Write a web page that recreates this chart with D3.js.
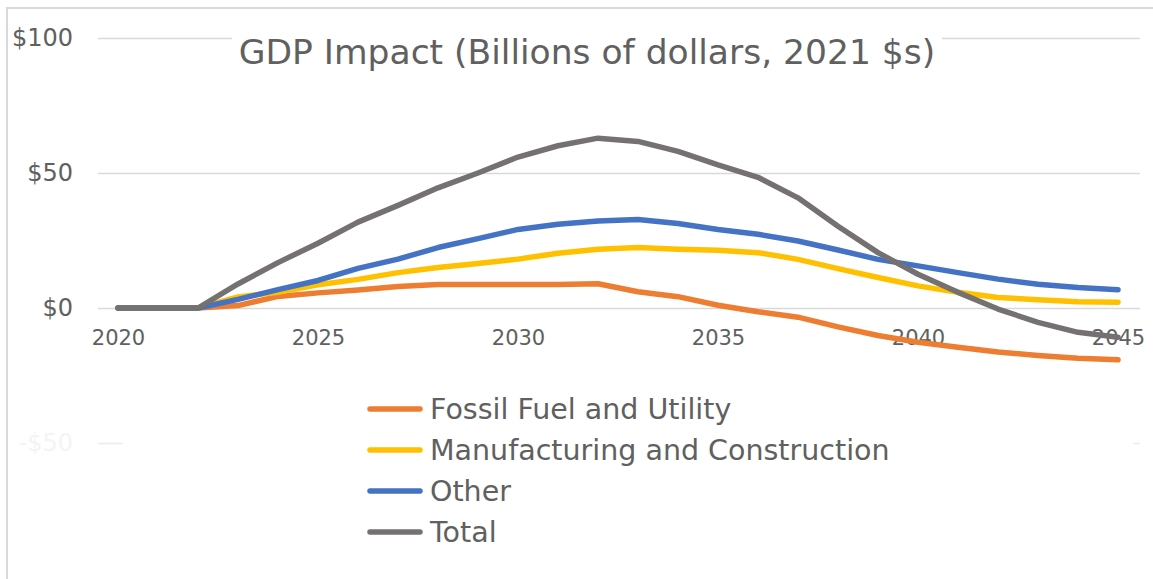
<!DOCTYPE html>
<html>
<head>
<meta charset="utf-8">
<script src="https://cdn.jsdelivr.net/npm/d3@7"></script>
<style>
  body { margin: 0; background: #fff; }
  svg text { font-family: "DejaVu Sans", sans-serif; fill: #606060; }
</style>
</head>
<body>
<svg id="chart"></svg>
<script>
const years = d3.range(2020, 2046);
const yearTicks = [2020, 2025, 2030, 2035, 2040, 2045];
const valueTicks = [-50, 0, 50, 100];

const seriesNames = ['Fossil Fuel and Utility', 'Manufacturing and Construction', 'Other', 'Total'];
const seriesColors = ['#ed7d31', '#ffc000', '#4472c4', '#767171'];

const fossilFuel = [0, 0, 0, 0.9, 4.3, 5.6, 6.7, 8.0, 8.7, 8.7, 8.7, 8.7, 9.0, 6.0, 4.2, 1.0,
  -1.4, -3.4, -7.0, -10.2, -12.7, -14.5, -16.3, -17.6, -18.6, -19.2];
const manufacturing = [0, 0, 0, 4.1, 5.8, 8.6, 10.6, 13.1, 15.0, 16.5, 18.1, 20.3, 21.8, 22.4, 21.8, 21.4,
  20.5, 18.0, 14.6, 11.3, 8.2, 5.8, 3.9, 3.1, 2.3, 2.1];
const other = [0, 0, 0, 3.2, 6.8, 10.2, 14.7, 18.1, 22.4, 25.7, 29.1, 31.0, 32.2, 32.8, 31.3, 29.1,
  27.3, 24.8, 21.5, 18.0, 15.6, 13.1, 10.7, 8.8, 7.6, 6.8];
const total = [0, 0, 0, 8.9, 16.8, 24.0, 31.8, 38.0, 44.5, 50.0, 55.9, 60.1, 62.9, 61.7, 58.0, 53.0,
  48.4, 40.8, 30.3, 20.5, 12.5, 5.8, -0.4, -5.3, -9.0, -10.8];

const seriesValues = [fossilFuel, manufacturing, other, total];

class GdpChart {

  constructor(_config, _data) {
    this.config = {
      parentElement: _config.parentElement,
      width: 1153,
      height: 579,
      plot: {left: 98, right: 1140, top: 38, bottom: 443},
      xRange: [118, 1118]
    }
    this.data = _data;
    this.initVis();
  }

  initVis() {
    let vis = this;

    vis.svg = d3.select(vis.config.parentElement)
        .attr('width', vis.config.width)
        .attr('height', vis.config.height);

    // chart area frame
    vis.svg.append('rect')
        .attr('x', 7).attr('y', 8)
        .attr('width', vis.config.width + 10).attr('height', vis.config.height + 10)
        .attr('fill', '#fff')
        .attr('stroke', '#d9d9d9')
        .attr('stroke-width', 2);

    vis.xScale = d3.scalePoint()
        .domain(years)
        .range(vis.config.xRange);

    vis.yScale = d3.scaleLinear()
        .domain([-50, 100])
        .range([vis.config.plot.bottom, vis.config.plot.top]);

    vis.yAxis = d3.axisLeft(vis.yScale)
        .tickValues(valueTicks)
        .tickSize(-(vis.config.plot.right - vis.config.plot.left))
        .tickPadding(25)
        .tickFormat(d => (d < 0 ? '-$' : '$') + Math.abs(d));

    vis.xAxis = d3.axisBottom(vis.xScale)
        .tickValues(yearTicks)
        .tickSize(0)
        .tickPadding(22);

    vis.yAxisG = vis.svg.append('g')
        .attr('class', 'axis y-axis')
        .attr('transform', `translate(${vis.config.plot.left},0)`);

    vis.xAxisG = vis.svg.append('g')
        .attr('class', 'axis x-axis')
        .attr('transform', `translate(0,${vis.yScale(0)})`);

    vis.linesG = vis.svg.append('g');
    vis.legendG = vis.svg.append('g');
    vis.titleG = vis.svg.append('g');
  }

  updateVis() {
    let vis = this;

    vis.line = d3.line()
        .x((d, i) => vis.xScale(years[i]))
        .y(d => vis.yScale(d));

    vis.renderVis();
  }

  renderVis() {
    let vis = this;

    vis.yAxisG.call(vis.yAxis)
        .call(g => g.select('.domain').remove())
        .call(g => g.selectAll('.tick line')
            .attr('stroke', d => d < 0 ? '#ececec' : '#d9d9d9')
            .attr('stroke-width', 1.5))
        .call(g => g.selectAll('.tick text')
            .attr('font-size', 24)
            .attr('dy', '0.33em')
            .style('fill', d => d < 0 ? '#f4f4f4' : '#606060'));

    vis.xAxisG.call(vis.xAxis)
        .call(g => g.select('.domain').remove())
        .call(g => g.selectAll('.tick text').attr('font-size', 21));

    vis.linesG.selectAll('path')
        .data(vis.data)
      .join('path')
        .attr('d', d => vis.line(d.values))
        .attr('fill', 'none')
        .attr('stroke', d => d.color)
        .attr('stroke-width', 5.5)
        .attr('stroke-linejoin', 'round')
        .attr('stroke-linecap', 'round');

    // legend box hides the lower gridline
    vis.legendG.append('rect')
        .attr('x', 123).attr('y', 385)
        .attr('width', 1010).attr('height', 185)
        .attr('fill', '#fff');

    const rows = vis.legendG.selectAll('.legend-item')
        .data(vis.data)
      .join('g')
        .attr('class', 'legend-item')
        .attr('transform', (d, i) => `translate(370,${409 + i * 41})`);

    rows.append('line')
        .attr('x1', 0).attr('x2', 50)
        .attr('stroke', d => d.color)
        .attr('stroke-width', 5.5)
        .attr('stroke-linecap', 'round');

    rows.append('text')
        .attr('x', 60)
        .attr('dy', '0.36em')
        .attr('font-size', 28.5)
        .text(d => d.name);

    const titleText = 'GDP Impact (Billions of dollars, 2021 $s)';
    vis.titleG.append('rect')
        .attr('x', 232).attr('y', 20)
        .attr('width', 710).attr('height', 58)
        .attr('fill', '#fff');
    vis.titleG.append('text')
        .attr('x', 587).attr('y', 64)
        .attr('text-anchor', 'middle')
        .attr('font-size', 34.5)
        .text(titleText);
  }
}

const data = seriesNames.map((name, i) => ({name: name, color: seriesColors[i], values: seriesValues[i]}));
const chart = new GdpChart({parentElement: '#chart'}, data);
chart.updateVis();
</script>
</body>
</html>
